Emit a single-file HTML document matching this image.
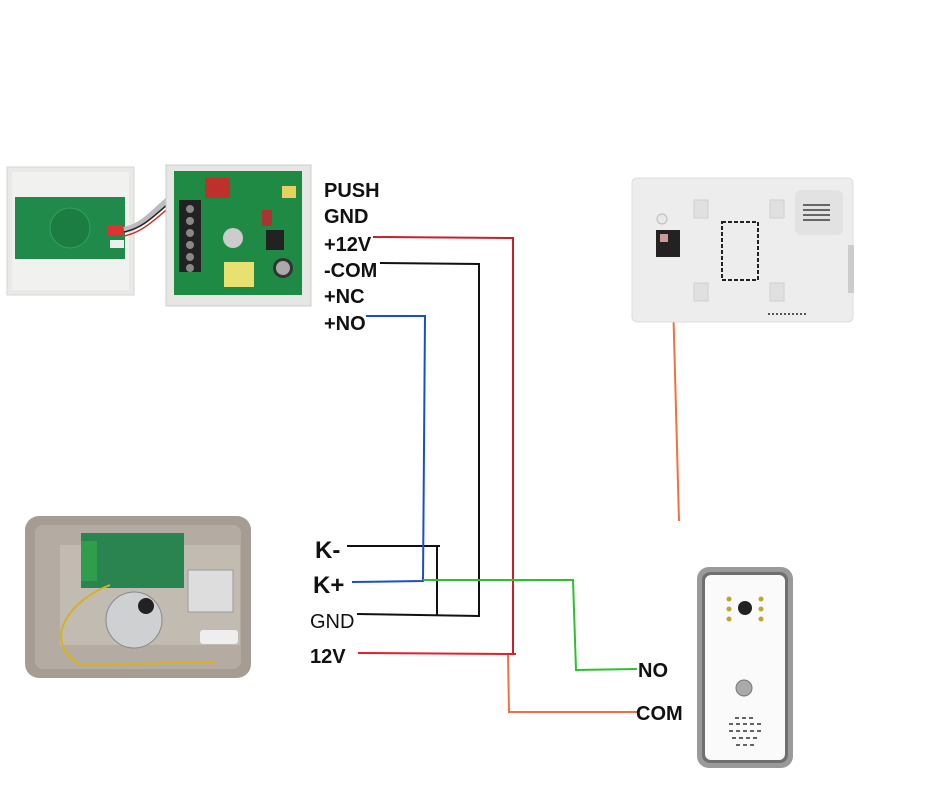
<!DOCTYPE html>
<html><head><meta charset="utf-8"><style>
html,body{margin:0;padding:0;background:#fff;}
svg{display:block;}
text{font-family:"Liberation Sans",Arial,sans-serif;fill:#111;}
</style></head><body>
<svg width="930" height="800" viewBox="0 0 930 800" xmlns="http://www.w3.org/2000/svg">
<rect width="930" height="800" fill="#fff"/>

<!-- Keypad box -->
<rect x="7" y="167" width="127" height="128" fill="#e9e9e7" stroke="#d5d5d3"/>
<rect x="12" y="172" width="117" height="118" fill="#f1f1ef"/>
<rect x="15" y="197" width="110" height="62" fill="#1f8a4a"/>
<circle cx="70" cy="228" r="20" fill="#1b7d42" stroke="#35a060"/>
<rect x="108" y="225" width="16" height="10" fill="#d33"/>
<rect x="110" y="240" width="14" height="8" fill="#eee"/>
<path d="M124 230 C150 225,160 200,190 185" stroke="#bbb" stroke-width="6" fill="none"/>
<path d="M124 232 C152 226,162 203,192 188" stroke="#222" stroke-width="1.5" fill="none"/>
<path d="M124 236 C152 230,164 206,194 191" stroke="#c33" stroke-width="1.5" fill="none"/>

<!-- Controller box -->
<rect x="166" y="165" width="145" height="141" fill="#e6e6e4" stroke="#ccc"/>
<rect x="174" y="171" width="128" height="124" fill="#1f8a44"/>
<rect x="179" y="200" width="22" height="72" fill="#222"/>
<g fill="#888"><circle cx="190" cy="209" r="4"/><circle cx="190" cy="221" r="4"/><circle cx="190" cy="233" r="4"/><circle cx="190" cy="245" r="4"/><circle cx="190" cy="257" r="4"/><circle cx="190" cy="268" r="4"/></g>
<rect x="205" y="178" width="25" height="20" fill="#c0302a"/>
<circle cx="233" cy="238" r="10" fill="#ccc"/>
<rect x="224" y="262" width="30" height="25" fill="#e8e070"/>
<rect x="266" y="230" width="18" height="20" fill="#222"/>
<circle cx="283" cy="268" r="10" fill="#333"/><circle cx="283" cy="268" r="7" fill="#aaa"/>
<rect x="282" y="186" width="14" height="12" fill="#e8d060"/>
<rect x="262" y="210" width="10" height="16" fill="#a33"/>

<!-- Labels top -->
<g font-weight="bold" font-size="20">
<text x="324" y="197">PUSH</text>
<text x="324" y="223">GND</text>
<text x="324" y="251">+12V</text>
<text x="324" y="277">-COM</text>
<text x="324" y="303">+NC</text>
<text x="324" y="330">+NO</text>
</g>

<!-- Wires -->
<g fill="none" stroke-width="2">
<polyline points="373,237 513,238 513,655" stroke="#c8202a"/>
<line x1="358" y1="653" x2="516" y2="654" stroke="#e0202a"/>
<polyline points="380,263 479,264 479,616 357,614" stroke="#111"/>
<line x1="347" y1="546" x2="440" y2="546" stroke="#111"/>
<line x1="437" y1="545" x2="437" y2="616" stroke="#111"/>
<polyline points="366,316 425,316 423,581 352,582" stroke="#1b4fc8"/>
<polyline points="423,580 573,580 576,670 637,669" stroke="#2ec02e"/>
<polyline points="508,655 509,712 637,712" stroke="#f07040"/>
<line x1="672" y1="262" x2="679" y2="521" stroke="#f07040"/>
</g>

<!-- Bottom labels -->
<text x="315" y="558" font-size="24" font-weight="bold">K-</text>
<text x="313" y="593" font-size="24" font-weight="bold">K+</text>
<text x="310" y="628" font-size="20">GND</text>
<text x="310" y="663" font-size="20" font-weight="bold">12V</text>
<text x="638" y="677" font-size="20" font-weight="bold">NO</text>
<text x="636" y="720" font-size="20" font-weight="bold">COM</text>

<!-- Monitor -->
<rect x="632" y="178" width="221" height="144" rx="5" fill="#ededed" stroke="#ddd"/>
<rect x="795" y="190" width="48" height="45" rx="6" fill="#e2e2e2"/>
<g stroke="#666" stroke-width="2"><line x1="803" y1="205" x2="830" y2="205"/><line x1="803" y1="210" x2="830" y2="210"/><line x1="803" y1="215" x2="830" y2="215"/><line x1="803" y1="220" x2="830" y2="220"/></g>
<g fill="#e0e0e0" stroke="#d0d0d0"><rect x="694" y="200" width="14" height="18"/><rect x="770" y="200" width="14" height="18"/><rect x="694" y="283" width="14" height="18"/><rect x="770" y="283" width="14" height="18"/></g>
<rect x="656" y="230" width="24" height="27" fill="#222"/>
<rect x="660" y="234" width="8" height="8" fill="#c99"/>
<rect x="722" y="222" width="36" height="58" fill="none" stroke="#222" stroke-width="2" stroke-dasharray="4 2"/>
<circle cx="662" cy="219" r="5" fill="#e8e8e8" stroke="#bbb"/>
<line x1="768" y1="314" x2="808" y2="314" stroke="#555" stroke-width="2" stroke-dasharray="2 2"/>
<rect x="848" y="245" width="6" height="48" fill="#ccc"/>

<!-- Lock -->
<rect x="25" y="516" width="226" height="162" rx="14" fill="#a59d92"/>
<rect x="35" y="525" width="206" height="144" rx="8" fill="#b4aca2"/>
<rect x="60" y="545" width="180" height="100" fill="#c2bbb2"/>
<rect x="81" y="533" width="103" height="55" fill="#2a8450"/>
<rect x="81" y="541" width="16" height="40" fill="#2f9e4c"/>
<circle cx="134" cy="620" r="28" fill="#cfd0d2" stroke="#888"/>
<circle cx="146" cy="606" r="8" fill="#222"/>
<rect x="188" y="570" width="45" height="42" fill="#ddd" stroke="#999"/>
<rect x="200" y="630" width="38" height="14" rx="3" fill="#eee"/>
<path d="M110 585 C70 600,40 640,80 665 L215 662" stroke="#d8b020" stroke-width="2" fill="none"/>

<!-- Doorbell -->
<rect x="697" y="567" width="96" height="201" rx="12" fill="#9a9a9a"/>
<rect x="702" y="572" width="86" height="191" rx="8" fill="#6f6f6f"/>
<rect x="705" y="575" width="80" height="185" rx="6" fill="#fafafa"/>
<circle cx="745" cy="608" r="7" fill="#222"/>
<g fill="#b8a830"><circle cx="729" cy="599" r="2.5"/><circle cx="729" cy="609" r="2.5"/><circle cx="729" cy="619" r="2.5"/><circle cx="761" cy="599" r="2.5"/><circle cx="761" cy="609" r="2.5"/><circle cx="761" cy="619" r="2.5"/></g>
<circle cx="744" cy="688" r="8" fill="#aaa" stroke="#777"/>
<g stroke="#333" stroke-width="1.5" stroke-dasharray="4 3"><line x1="735" y1="718" x2="755" y2="718"/><line x1="729" y1="724" x2="761" y2="724"/><line x1="729" y1="731" x2="761" y2="731"/><line x1="732" y1="738" x2="758" y2="738"/><line x1="736" y1="745" x2="754" y2="745"/></g>
</svg>
</body></html>
